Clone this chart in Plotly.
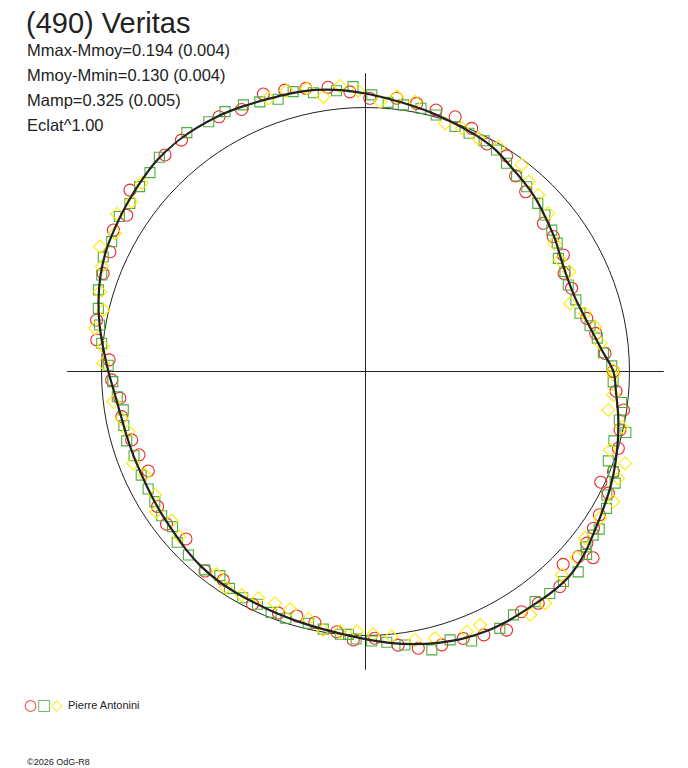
import plotly.graph_objects as go

# page is shifted by the browser's default 8px body margin, so the figure is
# made 8px smaller and every pixel position below is given in page pixels
PAGE_W, PAGE_H = 688, 768
OFF = 8
W, H = PAGE_W - OFF, PAGE_H - OFF
CX, CY = 365.5, 371.5
R_PX = 298.3
R_MAX = 1.13  # radial extent of the cross hairs, in units of mean flux


def px(x):
    return (x - OFF) / W


def py(y):
    return 1 - (y - OFF) / H


# fitted light curve: position angle (deg) -> relative flux (mean = 1)
fit_deg = [0, 5, 10, 15, 20, 25, 30, 35, 40, 45, 50, 55, 60, 65, 70, 75, 80, 85,
           90, 95, 100, 105, 110, 115, 120, 125, 130, 135, 140, 145, 150, 155, 160,
           165, 170, 175, 180, 185, 190, 195, 200, 205, 210, 215, 220, 225, 230,
           235, 240, 245, 250, 255, 260, 265, 270, 275, 280, 285, 290, 295, 300,
           305, 310, 315, 320, 325, 330, 335, 340, 345, 350, 355, 360]
fit_flux = [0.939, 0.900, 0.872, 0.852, 0.841, 0.843, 0.855, 0.876, 0.895, 0.917,
            0.935, 0.953, 0.975, 0.988, 0.998, 1.010, 1.022, 1.036, 1.053, 1.070,
            1.083, 1.091, 1.097, 1.107, 1.117, 1.123, 1.127, 1.124, 1.114, 1.104,
            1.094, 1.084, 1.068, 1.047, 1.023, 0.997, 0.974, 0.954, 0.942, 0.937,
            0.935, 0.934, 0.937, 0.942, 0.948, 0.958, 0.966, 0.970, 0.971, 0.972,
            0.976, 0.981, 0.988, 0.998, 1.014, 1.032, 1.049, 1.064, 1.077, 1.085,
            1.088, 1.089, 1.094, 1.094, 1.080, 1.058, 1.040, 1.025, 1.008, 0.990,
            0.972, 0.953, 0.939]

# session 1 (red circles)
red_deg = [0.0, 4.3, 9.4, 13.5, 22.0, 26.3, 30.5, 35.7, 39.8, 48.3, 52.5, 56.8,
           61.9, 66.4, 70.6, 74.9, 79.2, 83.5, 89.1, 93.2, 97.5, 101.9, 106.0,
           110.2, 115.3, 119.9, 124.2, 128.5, 132.8, 136.9, 142.4, 146.8, 150.7,
           154.9, 159.5, 169.2, 173.3, 177.4, 181.9, 186.2, 190.5, 196.3, 200.2,
           204.6, 213.0, 217.5, 223.0, 231.2, 235.7, 244.1, 250.2, 254.3, 258.6,
           263.7, 267.4, 272.0, 276.8, 280.8, 285.6, 290.1, 294.2, 298.6, 303.0,
           306.7, 312.1, 315.7, 319.0, 320.7, 322.2, 325.5, 328.5, 333.4, 334.8,
           338.0, 343.1, 347.1, 351.5, 355.5]
red_flux = [0.939, 0.910, 0.884, 0.862, 0.842, 0.839, 0.870, 0.876, 0.877, 0.912,
            0.934, 0.976, 0.977, 1.005, 1.023, 1.026, 1.034, 1.042, 1.035, 1.061,
            1.086, 1.096, 1.109, 1.120, 1.098, 1.113, 1.137, 1.120, 1.118, 1.135,
            1.126, 1.081, 1.095, 1.069, 1.061, 1.037, 1.025, 0.972, 0.962, 0.936,
            0.939, 0.923, 0.914, 0.905, 0.939, 0.950, 0.930, 0.970, 0.956, 0.980,
            0.973, 0.962, 0.970, 0.992, 1.018, 1.011, 1.044, 1.067, 1.075, 1.077,
            1.094, 1.116, 1.085, 1.095, 1.098, 1.046, 1.069, 1.114, 1.061, 1.048,
            1.039, 1.029, 0.985, 1.013, 1.001, 0.989, 0.988, 0.952]

# session 2 (green squares)
green_deg = [1.3, 4.5, 8.2, 11.5, 15.2, 18.8, 23.1, 26.6, 30.4, 33.8, 37.2, 41.1,
             44.3, 48.9, 52.3, 55.9, 59.4, 62.8, 66.5, 69.9, 74.6, 78.1, 81.9,
             85.2, 88.7, 92.5, 95.9, 100.6, 104.5, 107.8, 111.4, 114.6, 118.4,
             122.1, 126.8, 130.4, 133.9, 137.3, 140.7, 144.5, 147.8, 152.9, 156.4,
             159.9, 163.0, 166.7, 170.1, 173.9, 178.6, 182.3, 185.8, 189.0, 192.6,
             196.2, 200.0, 204.8, 208.4, 211.7, 215.3, 218.8, 222.2, 226.0, 231.0,
             234.5, 237.9, 241.5, 245.1, 248.6, 252.1, 257.2, 260.7, 264.5, 266.3,
             268.0, 271.3, 274.5, 278.2, 283.4, 287.5, 291.5, 297.6, 301.3, 306.4,
             309.7, 313.3, 316.7, 320.4, 321.5, 324.3, 326.0, 330.4, 332.9, 335.9,
             338.0, 339.8, 344.4, 346.8, 349.2, 353.1, 357.6]
green_flux = [0.933, 0.904, 0.887, 0.868, 0.842, 0.842, 0.835, 0.845, 0.847, 0.874,
              0.886, 0.902, 0.912, 0.929, 0.936, 0.953, 0.975, 0.983, 0.984, 0.988,
              1.008, 1.019, 1.020, 1.023, 1.048, 1.080, 1.069, 1.074, 1.095, 1.083,
              1.097, 1.111, 1.119, 1.117, 1.130, 1.132, 1.126, 1.111, 1.106, 1.096,
              1.102, 1.080, 1.084, 1.064, 1.058, 1.040, 1.023, 1.005, 0.975, 0.958,
              0.945, 0.929, 0.938, 0.942, 0.933, 0.936, 0.936, 0.938, 0.946, 0.938,
              0.963, 0.966, 0.967, 0.950, 0.970, 0.975, 0.972, 0.980, 0.982, 0.978,
              0.989, 1.000, 0.998, 1.014, 1.021, 1.029, 1.047, 1.084, 1.066, 1.097,
              1.098, 1.079, 1.083, 1.093, 1.093, 1.107, 1.087, 1.067, 1.062, 1.068,
              1.050, 1.027, 1.036, 1.013, 0.980, 0.977, 1.013, 0.979, 0.977, 0.939]

# session 3 (yellow diamonds)
yellow_deg = [0.3, 6.8, 11.0, 14.8, 18.4, 26.1, 29.8, 34.2, 40.9, 45.6, 49.3, 52.9,
              59.4, 64.2, 68.4, 72.2, 79.6, 83.5, 86.9, 91.5, 95.1, 98.7, 101.7,
              105.7, 109.6, 114.1, 117.5, 121.4, 128.6, 132.6, 139.9, 144.0, 147.6,
              151.1, 154.8, 158.3, 163.3, 166.8, 170.9, 174.6, 178.2, 186.8, 190.9,
              194.2, 201.6, 205.1, 210.4, 213.8, 217.6, 221.6, 233.7, 237.1, 241.0,
              244.7, 248.7, 252.4, 257.0, 260.7, 264.4, 268.1, 271.7, 275.6, 280.4,
              284.6, 291.3, 294.3, 304.1, 307.8, 314.0, 318.6, 322.8, 328.0, 332.3,
              337.1, 340.5, 342.2, 347.8, 351.0, 354.6, 359.2]
yellow_flux = [0.939, 0.897, 0.886, 0.860, 0.817, 0.860, 0.849, 0.864, 0.916, 0.936,
               0.949, 0.981, 0.989, 0.981, 0.991, 0.987, 1.039, 1.048, 1.023, 1.064,
               1.086, 1.053, 1.095, 1.105, 1.098, 1.134, 1.138, 1.153, 1.146, 1.131,
               1.108, 1.095, 1.114, 1.084, 1.111, 1.075, 1.050, 1.020, 1.038, 0.998,
               0.994, 0.962, 0.941, 0.927, 0.946, 0.923, 0.924, 0.955, 0.927, 0.943,
               0.953, 0.975, 0.968, 0.950, 0.942, 0.945, 0.962, 0.992, 0.990, 0.986,
               0.996, 1.009, 1.034, 1.044, 1.058, 1.054, 1.113, 1.111, 1.071, 1.066,
               1.044, 1.048, 1.060, 1.039, 1.043, 0.973, 0.993, 0.931, 0.943, 0.939]

TITLE = "(490) Veritas"
STATS = ["Mmax-Mmoy=0.194 (0.004)", "Mmoy-Mmin=0.130 (0.004)",
         "Mamp=0.325 (0.005)", "Eclat^1.00"]
OBSERVER = "Pierre Antonini"
CREDIT = "©2026 OdG-R8"

RED, GREEN, YELLOW = "#f02828", "#4caf3c", "#ffea00"
INK = "#222222"
FONT = "Arial, Liberation Sans, sans-serif"

fig = go.Figure()

sessions = [
    (red_deg, red_flux, "circle-open", RED, 12),
    (green_deg, green_flux, "square-open", GREEN, 10),
    (yellow_deg, yellow_flux, "diamond-open", YELLOW, 10),
]
for deg, flux, symbol, color, size in sessions:
    fig.add_trace(go.Scatterpolar(
        theta=deg, r=flux, mode="markers", cliponaxis=False,
        marker=dict(symbol=symbol, size=size, color=color,
                    line=dict(color=color, width=1.1)),
        showlegend=False, hoverinfo="skip",
    ))

fig.add_trace(go.Scatterpolar(
    theta=fit_deg, r=fit_flux, mode="lines", cliponaxis=False,
    line=dict(color=INK, width=2.2, shape="spline", smoothing=1),
    showlegend=False, hoverinfo="skip",
))

fig.update_layout(
    width=W, height=H,
    margin=dict(l=0, r=0, t=0, b=0),
    paper_bgcolor="white",
    plot_bgcolor="white",
    font=dict(family=FONT, color=INK),
    polar=dict(
        domain=dict(x=[px(CX - R_PX), px(CX + R_PX)],
                    y=[py(CY + R_PX), py(CY - R_PX)]),
        bgcolor="white",
        radialaxis=dict(range=[0, R_MAX], tickvals=[1], showticklabels=False,
                        ticks="", showline=False, showgrid=True,
                        gridcolor=INK, gridwidth=1),
        angularaxis=dict(rotation=0, direction="counterclockwise",
                         tickvals=[0, 90, 180, 270], showticklabels=False,
                         ticks="", showline=False, showgrid=True,
                         gridcolor=INK, gridwidth=1),
    ),
)

# header texts
fig.add_annotation(text=TITLE, xref="paper", yref="paper", x=px(24), y=py(23),
                   xanchor="left", yanchor="middle", showarrow=False,
                   font=dict(size=29, color=INK))
for i, line in enumerate(STATS):
    fig.add_annotation(text=line, xref="paper", yref="paper",
                       x=px(25), y=py(50 + 25 * i),
                       xanchor="left", yanchor="middle", showarrow=False,
                       font=dict(size=16.5, color=INK))

# observer key: the three session symbols followed by the observer's name
key = "".join(f"<span style='color:{c}'>{g}</span>"
              for g, c in [("○", RED), ("□", GREEN), ("◇", YELLOW)])
fig.add_annotation(text=key, xref="paper", yref="paper", x=px(22), y=py(705),
                   xanchor="left", yanchor="middle", showarrow=False,
                   font=dict(size=15, family="DejaVu Sans"))
fig.add_annotation(text=OBSERVER, xref="paper", yref="paper", x=px(66), y=py(705),
                   xanchor="left", yanchor="middle", showarrow=False,
                   font=dict(size=11, color=INK))
fig.add_annotation(text=CREDIT, xref="paper", yref="paper", x=px(25), y=py(762),
                   xanchor="left", yanchor="middle", showarrow=False,
                   font=dict(size=9, color=INK))

fig.write_html("out.html")
